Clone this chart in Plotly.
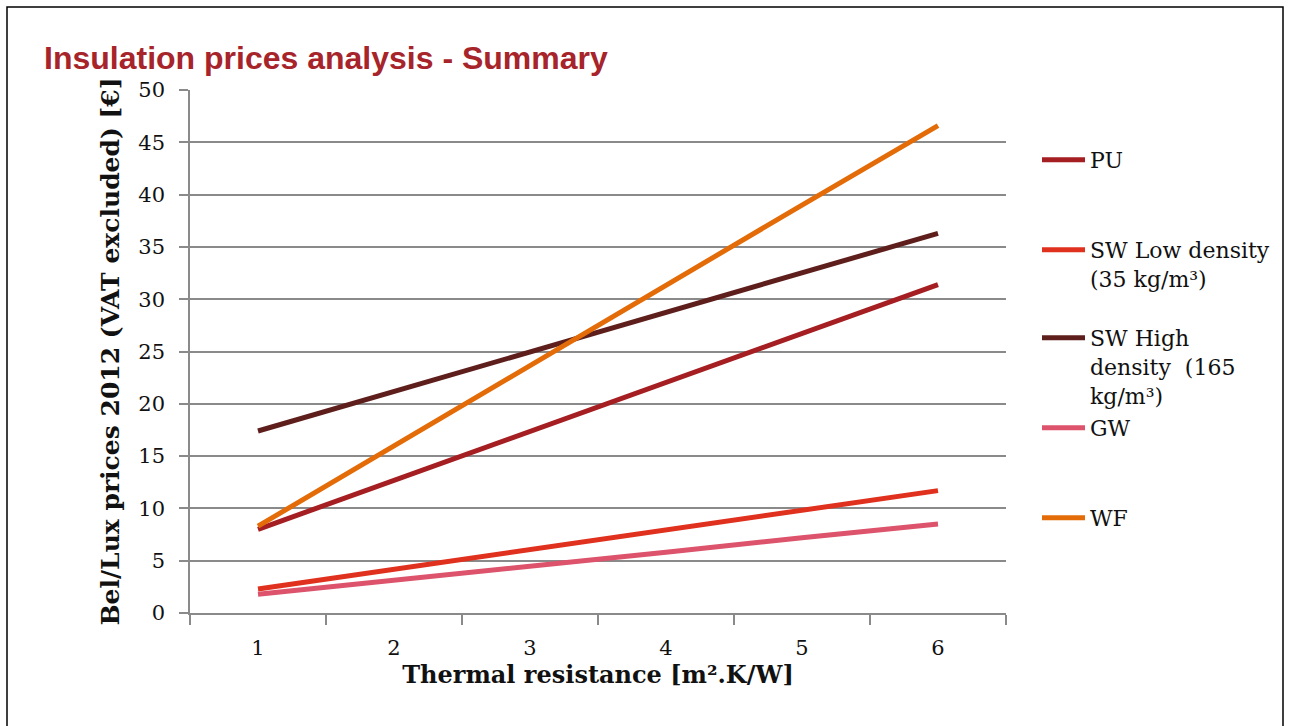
import plotly.graph_objects as go

resistance = [1, 2, 3, 4, 5, 6]
pu = [8.0, 12.7, 17.4, 22.0, 26.7, 31.4]
sw_low = [2.3, 4.2, 6.1, 7.9, 9.8, 11.7]
sw_high = [17.4, 21.2, 25.0, 28.7, 32.5, 36.3]
gw = [1.8, 3.1, 4.5, 5.8, 7.2, 8.5]
wf = [8.3, 16.0, 23.7, 31.3, 39.0, 46.6]

names = ["PU", "SW Low density<br>(35 kg/m³)", "SW High<br>density  (165<br>kg/m³)", "GW", "WF"]
colors = ["#A51E22", "#E0301E", "#5E1F1C", "#DC536B", "#E36C09"]
series = [pu, sw_low, sw_high, gw, wf]

W, H = 1291, 726
L, R, T, B = 190, 1006, 90, 613
pw, ph = R - L, B - T

def px(x):
    return (x - L) / pw

def py(y):
    return (B - y) / ph

serif = "DejaVu Serif"
legend_tops = [139, 229, 317, 407, 497]
legend_keys = ["legend", "legend2", "legend3", "legend4", "legend5"]

fig = go.Figure()
for name, col, vals, lk in zip(names, colors, series, legend_keys):
    fig.add_trace(go.Scatter(
        x=resistance, y=vals, mode="lines", name=name,
        line=dict(color=col, width=5), legend=lk,
    ))

layout_legends = {}
for lk, top in zip(legend_keys, legend_tops):
    layout_legends[lk] = dict(
        x=px(1037), y=py(top), xanchor="left", yanchor="top",
        bgcolor="rgba(0,0,0,0)", font=dict(family=serif, size=22, color="#111"),
        valign="top", itemwidth=43, tracegroupgap=0,
    )

fig.update_layout(
    width=W, height=H,
    margin=dict(l=L, r=W - R, t=T, b=H - B),
    paper_bgcolor="white", plot_bgcolor="white",
    showlegend=True,
    **layout_legends,
)

fig.update_yaxes(
    range=[0, 50], dtick=5, tick0=0,
    showgrid=True, gridcolor="#8a8a8a", gridwidth=1.5,
    showline=True, linecolor="#8a8a8a", linewidth=1.5,
    ticks="outside", ticklen=9, tickcolor="#8a8a8a", tickwidth=1.5,
    tickfont=dict(family=serif, size=21, color="#111"),
    ticklabelstandoff=10,
    zeroline=False,
    title=dict(text="<b>Bel/Lux prices 2012 (VAT excluded) [€]</b>",
               font=dict(family=serif, size=25, color="#111"), standoff=12),
)
fig.update_xaxes(
    range=[0.5, 6.5], tickvals=resistance, ticktext=[str(v) for v in resistance],
    ticks="", showgrid=False, zeroline=False,
    showline=True, linecolor="#8a8a8a", linewidth=1.5,
    minor=dict(tickvals=[0.5, 1.5, 2.5, 3.5, 4.5, 5.5, 6.5], ticks="outside",
               ticklen=10, tickcolor="#8a8a8a", tickwidth=1.5, showgrid=False),
    tickfont=dict(family=serif, size=21, color="#111"),
    ticklabelstandoff=15,
    title=dict(text="<b>Thermal resistance [m².K/W]</b>",
               font=dict(family=serif, size=24, color="#111"), standoff=6),
)

fig.add_annotation(
    text="<b>Insulation prices analysis - Summary</b>",
    xref="paper", yref="paper", x=px(42), y=py(58),
    xanchor="left", yanchor="middle", showarrow=False,
    font=dict(family="Liberation Sans Narrow, Liberation Sans, Arial", size=32, color="#A6242A"),
)

fig.add_shape(
    type="rect", xref="paper", yref="paper",
    x0=px(7), x1=px(1283), y0=py(760), y1=py(7),
    line=dict(color="black", width=1.5), fillcolor="rgba(0,0,0,0)", layer="below",
)

fig.write_html("out.html", config={"displayModeBar": False},
               post_script="document.body.style.margin='0';")
